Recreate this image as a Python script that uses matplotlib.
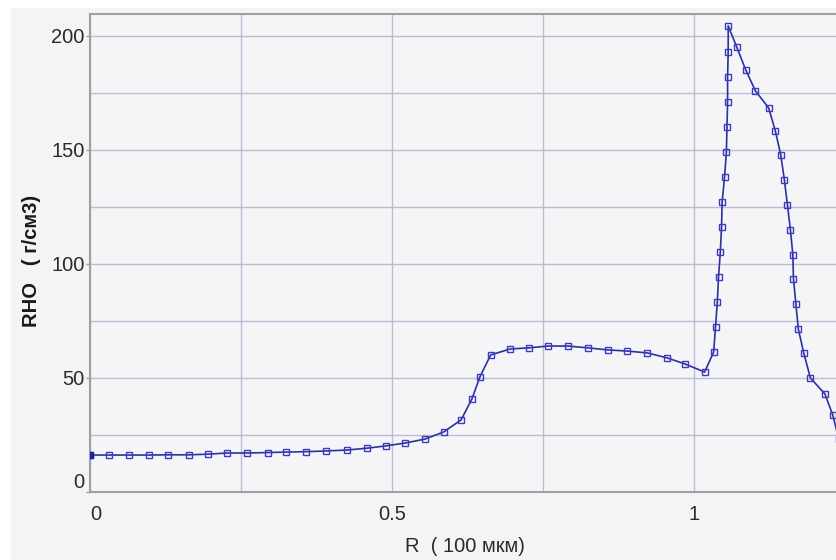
import numpy as np
import matplotlib
matplotlib.use('Agg')
import matplotlib.pyplot as plt
from matplotlib.ticker import MultipleLocator, FixedLocator
from matplotlib.patches import Rectangle

# Density profile
r = [0.000, 0.032, 0.065, 0.098, 0.129, 0.163, 0.196, 0.227, 0.260, 0.294,
     0.325, 0.358, 0.391, 0.425, 0.458, 0.489, 0.522, 0.554, 0.585, 0.614,
     0.632, 0.645, 0.663, 0.695, 0.726, 0.758, 0.791, 0.824, 0.857, 0.889,
     0.922, 0.955, 0.985, 1.017, 1.032, 1.035, 1.038, 1.040, 1.043, 1.045,
     1.046, 1.050, 1.053, 1.054, 1.055, 1.055, 1.056, 1.056, 1.070, 1.085,
     1.101, 1.123, 1.134, 1.143, 1.149, 1.154, 1.159, 1.163, 1.164, 1.168,
     1.172, 1.181, 1.192, 1.216, 1.229, 1.239]
rho = [16.2, 16.2, 16.2, 16.2, 16.3, 16.3, 16.6, 17.1, 17.1, 17.3,
       17.5, 17.7, 18.0, 18.4, 19.2, 20.2, 21.5, 23.2, 26.3, 31.6,
       40.8, 50.4, 60.1, 62.7, 63.2, 64.0, 64.0, 63.2, 62.3, 61.8,
       61.0, 58.8, 56.1, 52.6, 61.4, 72.4, 83.3, 94.3, 105.3, 116.2,
       127.2, 138.2, 149.1, 160.1, 171.1, 182.0, 193.0, 204.4, 195.2, 185.1,
       175.9, 168.4, 158.3, 147.8, 136.8, 125.9, 114.9, 103.9, 93.4, 82.5,
       71.5, 61.0, 50.0, 43.0, 33.8, 23.2]

x_ticks = [0, 0.5, 1]
x_tick_labels = ['0', '0.5', '1']
y_ticks = [0, 50, 100, 150, 200]

plt.rcParams['font.family'] = ['Liberation Sans', 'DejaVu Sans']

fig = plt.figure(figsize=(8.37, 5.6), dpi=100, facecolor='white')
# grey panel behind the chart, leaving a thin white margin top and left
fig.patches.append(Rectangle((11 / 837, 0), 1, 552 / 560, transform=fig.transFigure,
                             facecolor='#f4f4f4', edgecolor='none', zorder=-10))

ax = fig.add_axes([90 / 837, 68 / 560, 750 / 837, 478 / 560])
ax.set_zorder(1)
ax.set_facecolor('#f5f5f7')

ax.plot(r, rho, color='#2f2fa0', lw=1.2, marker='s', ms=4.2,
        mfc='none', mec='#3b3bc0', mew=1.0, zorder=3)
# first point drawn filled
ax.plot(r[0], rho[0], marker='s', ms=4.2, color='#2020a0', zorder=4)

ax.set_xlim(0, 1.241)
ax.set_ylim(0, 209.6)

ax.xaxis.set_major_locator(FixedLocator(x_ticks))
ax.set_xticklabels(x_tick_labels)
ax.xaxis.set_minor_locator(MultipleLocator(0.25))
ax.yaxis.set_major_locator(FixedLocator(y_ticks))
ax.yaxis.set_minor_locator(MultipleLocator(25))

ax.grid(True, which='both', color='#bcbcd6', lw=1.0)
ax.set_axisbelow(True)
ax.tick_params(which='minor', length=0)
ax.tick_params(which='major', length=3, width=1, color='#a0a0a0',
               labelsize=14.5, labelcolor='#2a2a2a')
ax.tick_params(axis='x', which='major', length=0, pad=9)
ax.tick_params(axis='y', pad=1)

# nudge the zero labels the way the original does
ylabs = ax.get_yticklabels()
ylabs[0].set_verticalalignment('bottom')
xlabs = ax.get_xticklabels()
xlabs[0].set_horizontalalignment('left')

for s in ['left', 'bottom', 'top']:
    ax.spines[s].set_color('#a0a0a0')
    ax.spines[s].set_linewidth(1.5)
ax.spines['right'].set_visible(False)

ax.set_xlabel('R  ( 100 мкм)', fontsize=14.5, color='#2a2a2a', labelpad=10)
ax.set_ylabel('RHO   ( г/см3)', fontsize=14.5, color='#1a1a1a', fontweight='bold')
ax.yaxis.set_label_coords(-0.065, 0.483)

fig.savefig('out.png', dpi=100, facecolor=fig.get_facecolor())
